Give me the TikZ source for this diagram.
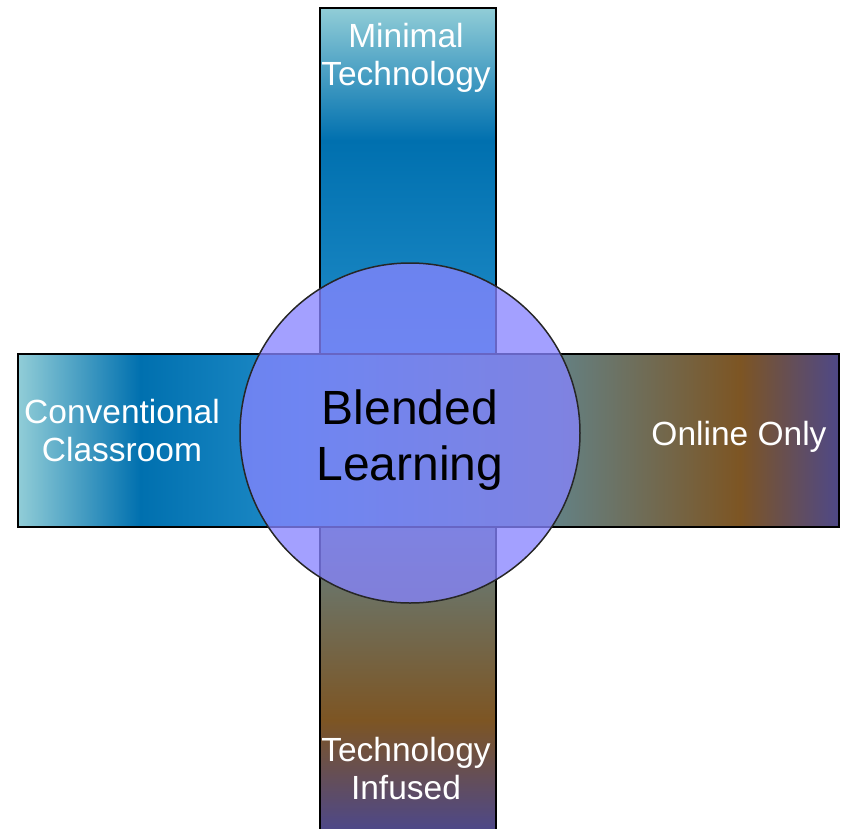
\documentclass[tikz,border=0pt]{standalone}
\usepackage{fontspec}
\setmainfont{Liberation Sans}
\definecolor{lcyan}{RGB}{145,205,215}
\definecolor{dblue}{RGB}{0,112,175}
\definecolor{mblue}{RGB}{32,140,200}
\definecolor{grayteal}{RGB}{100,128,130}
\definecolor{obrown}{RGB}{125,85,35}
\definecolor{purp}{RGB}{78,72,135}
\definecolor{blob}{RGB}{135,132,255}
\tikzset{
  barline/.style={line width=2pt, draw=black},
  bartext/.style={align=center, text=white, font=\fontsize{33.5}{38}\selectfont},
  centertext/.style={align=center, text=black, font=\fontsize{48}{56}\selectfont},
}
\begin{document}
\begin{tikzpicture}[x=1pt,y=-1pt]
\useasboundingbox (0,0) rectangle (844,828);
% vertical bar
\shade[top color=lcyan, bottom color=dblue] (320,8) rectangle (496,140.5);
\shade[top color=dblue, bottom color=mblue] (320,140) rectangle (496,355);
\shade[top color=mblue, bottom color=grayteal] (320,354) rectangle (496,528);
\shade[top color=grayteal, bottom color=obrown] (320,527) rectangle (496,720.5);
\shade[top color=obrown, bottom color=purp] (320,720) rectangle (496,828);
\draw[barline] (320,829) -- (320,8) -- (496,8) -- (496,829);
% horizontal bar
\shade[left color=lcyan, right color=dblue] (18,354) rectangle (140.5,527);
\shade[left color=dblue, right color=mblue] (140,354) rectangle (300.5,527);
\shade[left color=mblue, right color=grayteal] (300,354) rectangle (560.5,527);
\shade[left color=grayteal, right color=obrown] (560,354) rectangle (740.5,527);
\shade[left color=obrown, right color=purp] (740,354) rectangle (839,527);
\draw[barline] (18,354) rectangle (839,527);
% circle
\node[circle, fill=blob, fill opacity=0.77, draw=black!85, line width=1.5pt,
      minimum size=340pt, inner sep=0pt] (blended) at (410,433) {};
\node[centertext] (bltext) at (blended.center) [yshift=-7pt] {Blended\\Learning};
% labels
\node[bartext] (minimal) at (406,58) {Minimal\\Technology};
\node[bartext] (conv) at (122,431) {Conventional\\Classroom};
\node[bartext] (online) at (739,437) {Online Only};
\node[bartext] (infused) at (406,769) {Technology\\Infused};
\end{tikzpicture}
\end{document}
